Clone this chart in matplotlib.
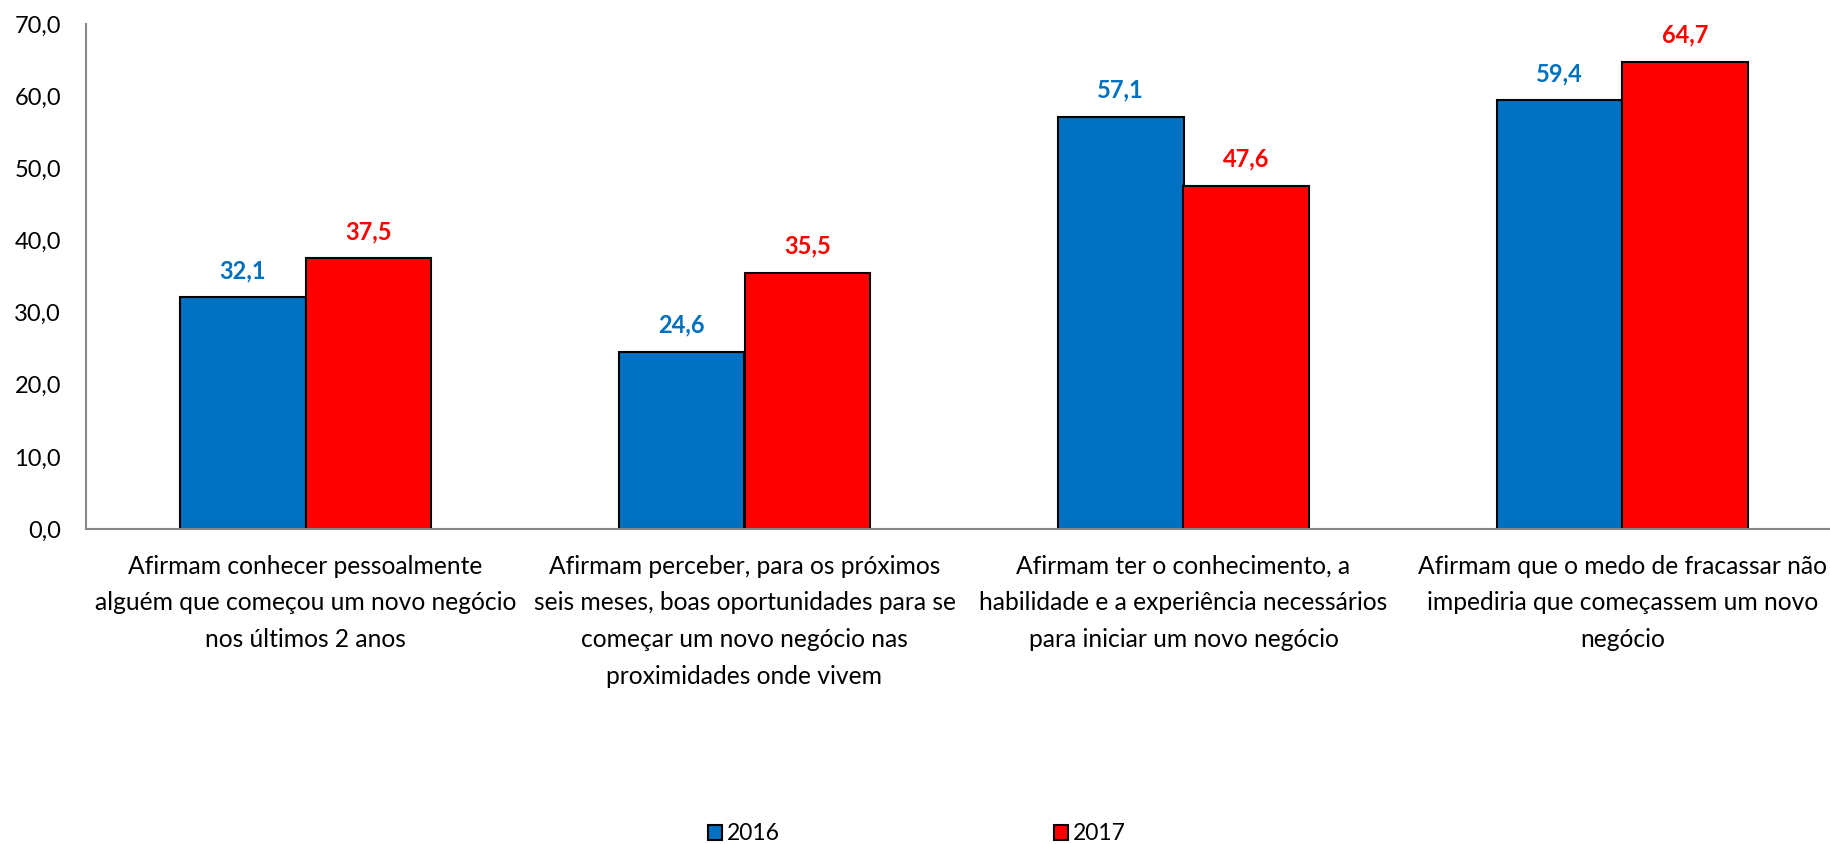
import numpy as np
import matplotlib
matplotlib.use('Agg')
import matplotlib.pyplot as plt
from matplotlib.patches import Patch

plt.rcParams['font.family'] = ['Lato', 'DejaVu Sans']

categories = [
    "Afirmam conhecer pessoalmente\nalguém que começou um novo negócio\nnos últimos 2 anos",
    "Afirmam perceber, para os próximos\nseis meses, boas oportunidades para se\ncomeçar um novo negócio nas\nproximidades onde vivem",
    "Afirmam ter o conhecimento, a\nhabilidade e a experiência necessários\npara iniciar um novo negócio",
    "Afirmam que o medo de fracassar não\nimpediria que começassem um novo\nnegócio",
]
vals_2016 = [32.1, 24.6, 57.1, 59.4]
vals_2017 = [37.5, 35.5, 47.6, 64.7]
series = ["2016", "2017"]
colors = ["#0070C0", "#FF0000"]

fig = plt.figure(figsize=(18.3, 8.44), dpi=100)
# axis box in pixels: left 86, y=0 at 529, y=70 at 24, 439 px per category
ax = fig.add_axes([86 / 1830, 1 - 529 / 844, 1756 / 1830, 505 / 844])

x = np.arange(len(categories))
w = 0.286
for i, (vals, col) in enumerate(zip([vals_2016, vals_2017], colors)):
    pos = x + (i - 0.5) * w
    ax.bar(pos, vals, w, color=col, edgecolor='black', linewidth=1.5, zorder=2)
    for px, v in zip(pos, vals):
        ax.annotate(f"{v:.1f}".replace('.', ','), (px, v), xytext=(0, 14),
                    textcoords='offset points', ha='center', va='baseline',
                    color=col, fontsize=17, fontweight='bold')

ax.set_xlim(-0.5, len(categories) - 0.5)
ax.set_ylim(0, 70)
yt = np.arange(0, 71, 10)
ax.set_yticks(yt)
ax.set_yticklabels([f"{t:.1f}".replace('.', ',') for t in yt], fontsize=17)
ax.set_xticks(x)
ax.set_xticklabels(categories, fontsize=17.7, linespacing=1.72, va='top')
ax.tick_params(axis='x', length=0, pad=18.5)
ax.tick_params(axis='y', length=0, pad=18)
for s in ['top', 'right']:
    ax.spines[s].set_visible(False)
for s in ['left', 'bottom']:
    ax.spines[s].set_color('#888888')
    ax.spines[s].set_linewidth(1.5)

handles = [Patch(facecolor=c, edgecolor='black', linewidth=1.5) for c in colors]
fig.legend(handles, series, loc='center', bbox_to_anchor=(0.501, 10 / 844),
           ncol=2, frameon=False, fontsize=16.5, handlelength=0.6, handleheight=0.6,
           handletextpad=0.2, columnspacing=12)

fig.savefig('out.png', dpi=100)
